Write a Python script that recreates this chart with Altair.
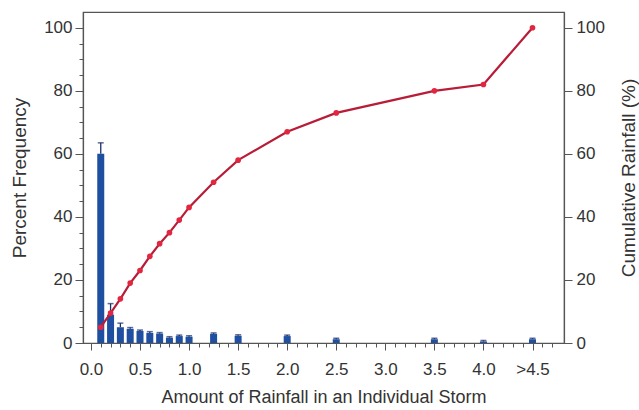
import altair as alt
import pandas as pd

# ---- data ----
bin_x = [0.1, 0.2, 0.3, 0.4, 0.5, 0.6, 0.7, 0.8, 0.9, 1.0, 1.25, 1.5, 2.0, 2.5, 3.5, 4.0, 4.5]
freq = [60, 9, 5, 4.5, 3.8, 3.2, 3.0, 1.7, 2.2, 2.0, 2.9, 2.3, 2.2, 1.2, 1.2, 0.5, 1.2]
freq_err = [3.5, 3.5, 1.3, 0.4, 0.3, 0.4, 0.3, 0.3, 0.3, 0.3, 0.3, 0.3, 0.3, 0.3, 0.3, 0.3, 0.3]
cum_rain = [5, 9.5, 14, 19, 23, 27.5, 31.5, 35, 39, 43, 51, 58, 67, 73, 80, 82, 100]

x_ticks = [round(i * 0.1, 1) for i in range(48)]
y_left_ticks = list(range(0, 101, 5))
y_right_ticks = [0, 20, 40, 60, 80, 100]

df = pd.DataFrame({
    "x": bin_x,
    "freq": freq,
    "upper": [f + e for f, e in zip(freq, freq_err)],
    "cum": cum_rain,
})

FONT = "Liberation Sans"
x_dom = [-0.03, 4.77]
y_dom = [0, 105]

x_axis = alt.Axis(
    title="Amount of Rainfall in an Individual Storm",
    values=x_ticks,
    labelExpr="abs(round(datum.value*10)) % 5 == 0 ? (datum.value == 4.5 ? '>4.5' : format(datum.value, '.1f')) : ''",
    labelOverlap=False,
    labelFlush=False,
    tickSize={"condition": {"test": "abs(round(datum.value*10)) % 5 == 0", "value": 7}, "value": 4},
    labelPadding=11,
    titlePadding=11,
    titleFontSize=18,
)
X_SCALE = alt.Scale(domain=x_dom, nice=False, zero=False)

def X():
    return alt.X("x:Q", scale=X_SCALE, axis=x_axis)

left_axis = alt.Axis(
    title="Percent Frequency",
    orient="left",
    values=y_left_ticks,
    labelExpr="datum.value % 20 == 0 ? format(datum.value, 'd') : ''",
    labelOverlap=False,
    tickSize={"condition": {"test": "datum.value % 20 == 0", "value": 8}, "value": 4},
    labelPadding=3,
    titlePadding=14,
)
YL = alt.Scale(domain=y_dom, nice=False)

bars = alt.Chart(df).mark_bar(color="#1f4fa0", size=7).encode(
    x=X(), y=alt.Y("freq:Q", scale=YL, axis=left_axis)
)
err = alt.Chart(df).mark_rule(color="#1a2f6a", strokeWidth=1.3).encode(
    x=X(), y=alt.Y("freq:Q", scale=YL, axis=left_axis), y2="upper:Q"
)
caps = alt.Chart(df).mark_tick(color="#1a2f6a", orient="horizontal", size=6, thickness=1.5).encode(
    x=X(), y=alt.Y("upper:Q", scale=YL, axis=left_axis)
)
left = alt.layer(bars, err, caps)

right_axis = alt.Axis(
    title="Cumulative Rainfall (%)",
    orient="right",
    values=y_right_ticks,
    tickSize=8,
    labelPadding=4,
    titlePadding=15,
    titleAngle=270,
    titleBaseline="top",
)
YR = alt.Scale(domain=y_dom, nice=False)
line = alt.Chart(df).mark_line(color="#b81c38", strokeWidth=2.2).encode(
    x=X(), y=alt.Y("cum:Q", scale=YR, axis=right_axis)
)
pts = alt.Chart(df).mark_point(filled=True, color="#e2263f", size=32, opacity=1).encode(
    x=X(), y=alt.Y("cum:Q", scale=YR, axis=right_axis)
)
right = alt.layer(line, pts)

chart = (
    alt.layer(left, right)
    .resolve_scale(y="independent")
    .properties(
        width=481,
        height=331,
        autosize=alt.AutoSizeParams(type="none"),
        padding={"left": 83, "top": 12, "right": 75, "bottom": 67},
    )
    .configure_view(stroke="#555", strokeWidth=1.2)
    .configure_axis(
        labelFont=FONT,
        titleFont=FONT,
        labelFontSize=17,
        titleFontSize=19,
        titleFontWeight="normal",
        labelColor="#333",
        titleColor="#333",
        domainColor="#555",
        tickColor="#555",
        domainWidth=1.2,
        grid=False,
    )
)

chart.save("out.html", embed_options={"renderer": "svg", "actions": False})
